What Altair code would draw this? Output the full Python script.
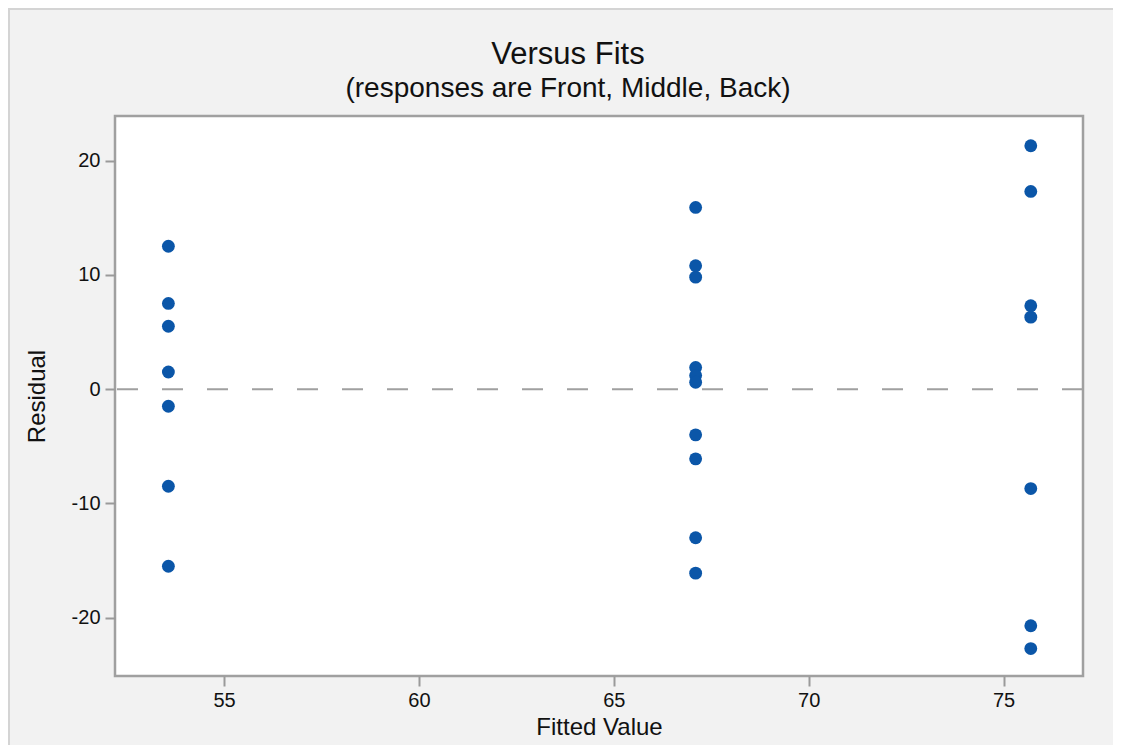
import altair as alt
import pandas as pd

# Fitted values (group means) and residuals
fit_front = 53.57
res_front = [12.5, 7.5, 5.5, 1.5, -1.5, -8.5, -15.5]
fit_middle = 67.1
res_middle = [15.9, 10.8, 9.8, 1.9, 1.2, 0.6, -4.0, -6.1, -13.0, -16.1]
fit_back = 75.7
res_back = [21.3, 17.3, 7.3, 6.3, -8.7, -20.7, -22.7]

x_ticks = [55, 60, 65, 70, 75]
y_ticks = [-20, -10, 0, 10, 20]
x_domain = [52.2, 77.04]
y_domain = [-25.1, 23.9]

rows = []
for fit, res in [(fit_front, res_front), (fit_middle, res_middle), (fit_back, res_back)]:
    for r in res:
        rows.append({"fit": fit, "resid": r})
df = pd.DataFrame(rows)
zero_df = pd.DataFrame({"y": [0]})

FONT = "Liberation Sans"
W, H = 968, 560
PAD_L, PAD_T = 107, 108

x_enc = alt.X(
    "fit:Q",
    scale=alt.Scale(domain=x_domain, nice=False, zero=False),
    axis=alt.Axis(
        values=x_ticks, title="Fitted Value", grid=False, domain=False,
        labelExpr="'' + datum.value",
        tickSize=10, tickColor="#9a9a9a", tickWidth=2,
        labelFontSize=20, labelColor="#111", labelFont=FONT, labelPadding=4,
        titleFontSize=24, titleFont=FONT, titleFontWeight="normal",
        titleColor="#111", titlePadding=5,
    ),
)
y_enc = alt.Y(
    "resid:Q",
    scale=alt.Scale(domain=y_domain, nice=False, zero=False),
    axis=alt.Axis(
        values=y_ticks, title="Residual", grid=False, domain=False,
        labelExpr="'' + datum.value",
        tickSize=10, tickColor="#9a9a9a", tickWidth=2,
        labelFontSize=20, labelColor="#111", labelFont=FONT, labelPadding=5,
        titleFontSize=24, titleFont=FONT, titleFontWeight="normal",
        titleColor="#111", titlePadding=22,
    ),
)

# light outer panel border (top/left edges of the grey panel)
border = alt.Chart(alt.Data(values=[{"a": 1}])).mark_rect(
    fill="#f2f2f2", fillOpacity=0, stroke="#d4d4d4", strokeWidth=2
).encode(
    x=alt.value(-(PAD_L - 1)), x2=alt.value(W + 60),
    y=alt.value(-(PAD_T - 1)), y2=alt.value(H + 120),
)

zero_line = alt.Chart(zero_df).mark_rule(
    color="#a0a0a0", strokeWidth=2, strokeDash=[21, 24]
).encode(y=alt.Y("y:Q", scale=alt.Scale(domain=y_domain, nice=False, zero=False)))

points = alt.Chart(df).mark_circle(
    size=165, color="#0b56a8", opacity=1
).encode(x=x_enc, y=y_enc)

chart = alt.layer(border, zero_line, points).properties(
    width=W,
    height=H,
    title=alt.TitleParams(
        text="Versus Fits",
        subtitle="(responses are Front, Middle, Back)",
        font=FONT, fontSize=31, fontWeight="normal", color="#111",
        subtitleFont=FONT, subtitleFontSize=28, subtitleColor="#111",
        subtitlePadding=4, anchor="middle", dx=-31, offset=12 - PAD_T,
    ),
    padding={"left": PAD_L, "top": PAD_T, "right": 30, "bottom": 69},
    autosize=alt.AutoSizeParams(type="none"),
    background="#f2f2f2",
).configure_view(
    fill="white", stroke="#a0a0a0", strokeWidth=2.5
)

chart.save("out.html", embed_options={"renderer": "svg", "actions": False})
